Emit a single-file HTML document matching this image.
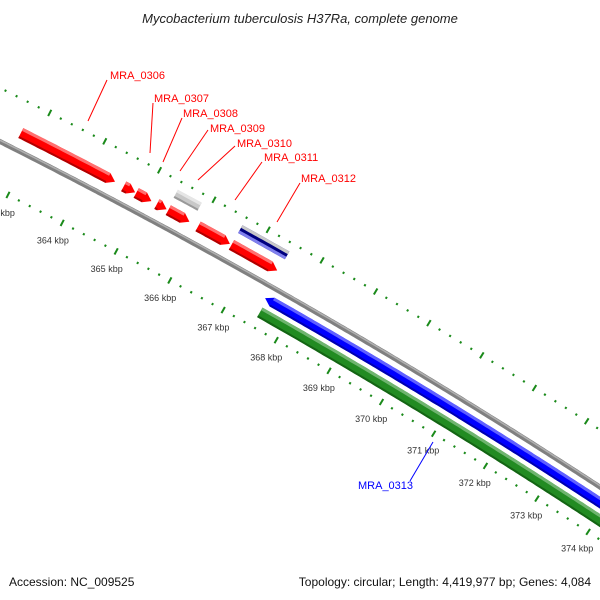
<!DOCTYPE html>
<html><head><meta charset="utf-8"><style>
html,body{margin:0;padding:0;background:#fff;overflow:hidden;}
svg{display:block;font-family:"Liberation Sans",sans-serif;}
</style></head><body>
<svg id="map" width="600" height="600" viewBox="0 0 600 600" xmlns="http://www.w3.org/2000/svg">
<rect width="600" height="600" fill="#fff"/>
<text x="300" y="23" text-anchor="middle" font-size="13" font-style="italic" fill="#222">Mycobacterium tuberculosis H37Ra, complete genome</text>
<g id="plot"></g>
<g font-size="11">
<line x1="107" y1="80" x2="88" y2="121" stroke="#f00"/>
<text x="110" y="79" fill="#f00">MRA_0306</text>
<line x1="153" y1="103" x2="150" y2="153" stroke="#f00"/>
<text x="154" y="102" fill="#f00">MRA_0307</text>
<line x1="182" y1="118" x2="163" y2="162" stroke="#f00"/>
<text x="183" y="117" fill="#f00">MRA_0308</text>
<line x1="208" y1="130" x2="180" y2="171" stroke="#f00"/>
<text x="210" y="132" fill="#f00">MRA_0309</text>
<line x1="235" y1="146" x2="198" y2="180" stroke="#f00"/>
<text x="237" y="147" fill="#f00">MRA_0310</text>
<line x1="262" y1="162" x2="235" y2="200" stroke="#f00"/>
<text x="264" y="161" fill="#f00">MRA_0311</text>
<line x1="300" y1="183" x2="277" y2="222" stroke="#f00"/>
<text x="301" y="182" fill="#f00">MRA_0312</text>
<line x1="410" y1="481" x2="433" y2="442" stroke="#00f"/>
<text x="358" y="489" fill="#00f">MRA_0313</text>
</g>
<text x="9" y="586" font-size="12" fill="#111">Accession: NC_009525</text>
<text x="591" y="586" text-anchor="end" font-size="12" fill="#111">Topology: circular; Length: 4,419,977 bp; Genes: 4,084</text>
</svg>
<script>
// ---- data ----
const featureNames  = ["MRA_0306","MRA_0307","MRA_0308","MRA_0309a","MRA_0310a","MRA_0309","MRA_0310","MRA_0311","MRA_0312","MRA_0313","orf_green"];
const featureStarts = [362.73, 364.61, 364.84, 365.22, 365.43, 365.41, 365.98, 366.60, 366.60, 367.50, 367.54];
const featureEnds   = [364.45, 364.82, 365.12, 365.40, 365.82, 365.85, 366.57, 367.45, 367.47, 379.0, 379.0];
const featureRows   = ["f1","f1","f1","f1","f1","f2","f1","f1","f2","r1","r2"];
const featureStrand = [1,1,1,1,1,0,1,1,0,-1,0];
const featureColors = ["red","red","red","red","red","gray","red","red","navy","blue","green"];
const tickKbp = [362,363,364,365,366,367,368,369,370,371,372,373,374,375,376];
const tickLabels = ["362 kbp","363 kbp","364 kbp","365 kbp","366 kbp","367 kbp","368 kbp","369 kbp","370 kbp","371 kbp","372 kbp","373 kbp","374 kbp","375 kbp","376 kbp"];

// ---- geometry (axis functions) ----
const CX=-2762, CY=5632, DEG0=-62.43, DEGPERK=0.573;
function ang(k){return (DEG0+(k-364)*DEGPERK)*Math.PI/180;}
function pt(k,r){const a=ang(k);return [CX+r*Math.cos(a),CY+r*Math.sin(a)];}
const rowR={f1:6163,f2:6181,r1:6133,r2:6118};
const rowW={f1:11,f2:9,r1:10,r2:11};
const palette={red:["#ff0000","#ff7070","#b00000"],gray:["#c8c8c8","#e6e6e6","#999"],navy:["#000080","#c8c8c8","#8080ee"],blue:["#0000ff","#6060ff","#0000b0"],green:["#228b22","#6fb46f","#146414"]};
const NS="http://www.w3.org/2000/svg";
const plot=document.getElementById('plot');
function headK(r){return 8/(r*DEGPERK*Math.PI/180);}
function arcPts(k1,k2,r){const n=Math.max(2,Math.ceil(Math.abs(k2-k1)*20));const p=[];for(let i=0;i<=n;i++){p.push(pt(k1+(k2-k1)*i/n,r));}return p;}
function shape(k1,k2,r,w,strand){
  const head=headK(r);
  let pts=[];
  if(strand===1){const kb=Math.max(k1,k2-head);
    pts=arcPts(k1,kb,r+w/2).concat([pt(k2,r)]).concat(arcPts(kb,k1,r-w/2));}
  else if(strand===-1){const kb=Math.min(k2,k1+head);
    pts=[pt(k1,r)].concat(arcPts(kb,k2,r+w/2)).concat(arcPts(k2,kb,r-w/2));}
  else{pts=arcPts(k1,k2,r+w/2).concat(arcPts(k2,k1,r-w/2));}
  return pts.map(p=>p[0].toFixed(1)+","+p[1].toFixed(1)).join(" ");
}
function poly(points,fill,name){const e=document.createElementNS(NS,'polygon');e.setAttribute('points',points);e.setAttribute('fill',fill);


plot.appendChild(e);return e;}
function pathArc(k1,k2,r,stroke,sw,name){const e=document.createElementNS(NS,'polyline');e.setAttribute('points',arcPts(k1,k2,r).map(p=>p[0].toFixed(1)+","+p[1].toFixed(1)).join(" "));e.setAttribute('fill','none');e.setAttribute('stroke',stroke);e.setAttribute('stroke-width',sw);


plot.appendChild(e);}

// backbone
pathArc(360,380,6146,"#808080",5,'backbone');
pathArc(360,380,6147.2,"#b0b0b0",1.5,'backbone-highlight');

// ticks
function tick(k,r,len,name){const a=pt(k,r-len/2),b=pt(k,r+len/2);const e=document.createElementNS(NS,'line');
e.setAttribute('x1',a[0]);e.setAttribute('y1',a[1]);e.setAttribute('x2',b[0]);e.setAttribute('y2',b[1]);
e.setAttribute('stroke','#1a8a1a');e.setAttribute('stroke-width',2);


plot.appendChild(e);}
for(let i=0;i<tickKbp.length;i++){
  const k=tickKbp[i];
  tick(k,6194,7,'outer-major-tick');
  tick(k,6102,7,'inner-major-tick');
  for(let j=1;j<5;j++){tick(k+j*0.2,6194,2.2,'outer-minor-tick');tick(k+j*0.2,6102,2.2,'inner-minor-tick');}
  const lp=pt(k,6082);
  const t=document.createElementNS(NS,'text');t.setAttribute('x',lp[0].toFixed(1));t.setAttribute('y',(lp[1]+3).toFixed(1));
  t.setAttribute('text-anchor','middle');t.setAttribute('font-size','9');t.setAttribute('fill','#333');t.textContent=tickLabels[i];
  
  
  plot.appendChild(t);
}

// features
for(let i=0;i<featureNames.length;i++){
  const r=rowR[featureRows[i]],w=rowW[featureRows[i]],c=palette[featureColors[i]],s=featureStrand[i];
  const k1=featureStarts[i],k2=featureEnds[i];
  poly(shape(k1,k2,r,w,s),c[0],'feature-'+featureNames[i].toLowerCase());
  const h=headK(r);
  let a=k1,b=k2;
  if(s===1){b=Math.max(k1,k2-h);} else if(s===-1){a=Math.min(k2,k1+h);}
  if(b>a){
    poly(shape(a,b,r+w/2-1.5,3,0),c[1],'feature-highlight');
    if(featureColors[i]==='navy'){poly(shape(a,b,r-w/2+1.5,3,0),c[2],'feature-shadow');}
    else{poly(shape(a,b,r-w/2+1,2,0),c[2],'feature-shadow');}
  }
}
</script>
</body></html>
